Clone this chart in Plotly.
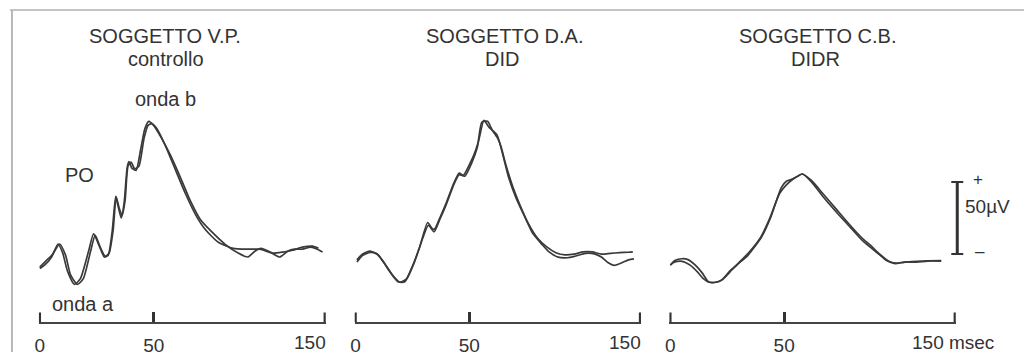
import plotly.graph_objects as go

# ---------------- data (time in msec, amplitude in µV) ----------------
vp_a_t = [0, 2.2, 5.2, 8, 10, 12.2, 15.2, 17.8, 21.3, 23.6, 26, 28.3, 30, 31.7, 33.3, 34.3, 35.7, 37,
          38.3, 39.1, 40.4, 42.2, 44.3, 46.1, 47.8, 50, 53.5, 57.3, 61.7, 66, 70.4, 74.8, 81.3, 87,
          91.3, 94.3, 97, 101, 105.2, 108.7, 111.7, 115.2, 118.7, 121.7, 124]
vp_a_v = [-10, -7.5, -2, 7, 1, -12, -21, -17, 1.4, 14, 6, -2, -0.7, 15, 40, 33.6, 25, 35.6,
          59.6, 64, 59.6, 58, 73, 87, 92, 89, 80, 68.5, 53, 37, 24, 16.4, 6.8, 0.7,
          -2, 2, 4, 1.4, -2, 2, 3.4, 3.4, 4.8, 3.4, 1.4]
vp_b_t = [0, 2.2, 5.7, 8.7, 11.3, 13.5, 16.5, 19.1, 22.2, 24.3, 26.5, 28.7, 30.4, 32.2, 33.5, 34.8,
          36.1, 37.4, 38.7, 40, 41.7, 43.5, 45.7, 47.4, 49.1, 51.3, 55.2, 59.6, 63.9, 68.3, 72.6,
          78.3, 84.8, 91.3, 96.5, 102.2, 106.5, 110.9, 115.2, 119.6, 122.2]
vp_b_v = [-9, -5.5, 0, 7, -0.7, -14.4, -21, -17, 1.4, 13, 4.8, -1.4, 0.7, 17, 39.7, 32,
          26.7, 37, 61, 63.7, 59, 61, 80, 89, 90.4, 87, 74.7, 58, 41.8, 27.4, 17,
          8.2, 4, 3.4, 3.4, 0.7, 1.4, 2.7, 4.8, 5.5, 4]

da_a_t = [0.6, 3, 6.4, 9.3, 12, 15, 18.7, 21.6, 24, 28, 31.7, 33.5, 34.7, 37, 40, 42.6, 45.5, 47.3,
          50, 52, 54, 56.4, 58.6, 62.2, 64.5, 67.3, 70.5, 74.5, 78, 81.7, 85, 89, 93, 96.2, 101,
          104.9, 108, 111, 113.6, 117, 120, 122.3]
da_a_v = [-5.5, -1, 1.2, 0.2, -5, -12, -19.2, -19.2, -12, 4, 21.9, 18, 17.3, 25, 36, 47, 56.2, 54.6,
          62, 68.7, 78, 92.6, 88, 82.4, 70, 52.9, 39, 25.3, 14, 7.1, 1.5, -2.1, -2.5, -1.6, 0.5,
          0.2, -2, -6, -7.8, -6, -4, -3.3]
da_b_t = [0.6, 3, 6.4, 10, 13, 16.5, 19.5, 22.5, 26, 29.5, 32, 34.5, 37, 40, 43, 45.5, 48, 51,
          53.5, 55.5, 58, 60, 62.5, 64, 66, 69, 72.5, 76, 80, 84, 88, 92, 96, 100, 104, 108,
          112, 116, 120, 121.8]
da_b_v = [-4, 0, 2, -0.5, -7, -15, -19.5, -17, -5, 11, 20, 15.5, 24, 35, 47.5, 55, 54, 63,
          74, 91.5, 92, 86, 80, 74, 62, 47, 33, 21, 11, 5, 1, -0.5, 0, 1.5, 1.5, 0,
          0.5, 1, 1.3, 1.5]

cb_a_t = [0, 2, 5.2, 8, 11, 14, 16.8, 20, 22.6, 26, 29.9, 34, 40, 44, 48.7, 51, 53, 56, 58.1,
          62, 67.5, 73, 79.1, 84, 87.8, 92, 95, 98.7, 103, 108.1, 113, 119]
cb_a_v = [-7.7, -4.5, -3.2, -4, -7.7, -13, -19.2, -19.5, -18, -12, -6.6, -1, 11.6, 25, 45.9, 50.5,
          51.6, 54, 55.5, 50, 39, 29, 18.5, 10, 4.8, -0.5, -4.5, -6.6, -5.5, -5.5, -4.8, -4.8]
cb_b_t = [0, 2, 5.2, 9, 12, 14.5, 17, 20, 23, 27, 31, 35, 40, 44, 48, 51, 54, 58, 62, 67, 73,
          79, 84, 88, 92, 96, 99, 103, 108, 113, 119]
cb_b_v = [-7.5, -5.5, -5, -8, -12.5, -17, -19.5, -19.5, -17.5, -11, -4.5, 2, 12.5, 26, 42, 48,
          52, 55.5, 51, 42, 31, 20, 11.5, 6, 0, -5, -6.3, -5.5, -5, -4.6, -4.5]

titles = ["SOGGETTO V.P.", "SOGGETTO D.A.", "SOGGETTO C.B."]
subtitles = ["controllo", "DID", "DIDR"]
tick_vals = [0, 50, 125]
tick_text = ["0", "50", ""]
end_labels = ["150", "150", "150 msec"]
scale_uv = 50

# ---------------- figure ----------------
W, H = 1024, 356
def px(x):
    return x / W
def py(y):
    return 1 - y / H

LINE = "#3a3a3a"
TXT = "#333333"
FONT = "Liberation Sans, Arial, sans-serif"

fig = go.Figure()
series = [(vp_a_t, vp_a_v, "x"), (vp_b_t, vp_b_v, "x"),
          (da_a_t, da_a_v, "x2"), (da_b_t, da_b_v, "x2"),
          (cb_a_t, cb_a_v, "x3"), (cb_b_t, cb_b_v, "x3")]
for t, v, xa in series:
    fig.add_trace(go.Scatter(x=t, y=v, xaxis=xa, yaxis="y", mode="lines",
                             line=dict(color=LINE, width=1.7, shape="spline", smoothing=0.6),
                             showlegend=False, hoverinfo="skip", cliponaxis=False))

domains = [(35, 323), (352, 639.5), (668, 955.5)]
axcommon = dict(range=[-0.4, 125.4], showgrid=False, zeroline=False, showline=True,
                linecolor="#444", linewidth=2, ticks="inside", ticklen=10, tickwidth=2.5,
                tickcolor="#333", tickmode="array", tickvals=tick_vals, ticktext=tick_text,
                tickfont=dict(family=FONT, size=19, color=TXT), ticklabelstandoff=5,
                anchor="y", fixedrange=True)
layout_axes = {}
for i, (a, b) in enumerate(domains):
    name = "xaxis" if i == 0 else f"xaxis{i+1}"
    layout_axes[name] = dict(domain=[px(a), px(b)], **axcommon)

fig.update_layout(
    width=W, height=H, margin=dict(l=0, r=0, t=0, b=0),
    paper_bgcolor="white", plot_bgcolor="white",
    yaxis=dict(domain=[py(326), py(110)], range=[-47.26, 100.68], visible=False, fixedrange=True),
    **layout_axes,
)

ann = []
centers = [162, 502, 817]
sub_centers = [163, 500, 815]
for i in range(3):
    ann.append(dict(x=px(centers[i]), y=py(36), xref="paper", yref="paper", text=titles[i],
                    showarrow=False, xanchor="center", yanchor="middle",
                    font=dict(family=FONT, size=20, color=TXT)))
    ann.append(dict(x=px(sub_centers[i]), y=py(60), xref="paper", yref="paper", text=subtitles[i],
                    showarrow=False, xanchor="center", yanchor="middle",
                    font=dict(family=FONT, size=20, color=TXT)))
# end tick labels
for i, xa in enumerate(["x", "x2", "x3"]):
    if i < 2:
        ann.append(dict(x=125, xref=xa, y=py(346), yref="paper", text=end_labels[i],
                        showarrow=False, xanchor="right", yanchor="middle", xshift=3,
                        font=dict(family=FONT, size=19, color=TXT)))
    else:
        ann.append(dict(x=125, xref=xa, y=py(346), yref="paper", text=end_labels[i],
                        showarrow=False, xanchor="center", yanchor="middle", xshift=-2,
                        font=dict(family=FONT, size=19, color=TXT)))
# waveform labels
for txt, x, y in [("onda b", 162, 100), ("PO", 76, 177), ("onda a", 79, 307)]:
    ann.append(dict(x=px(x), y=py(y), xref="paper", yref="paper", text=txt, showarrow=False,
                    xanchor="center", yanchor="middle", font=dict(family=FONT, size=20, color=TXT)))
# scale bar labels
ann.append(dict(x=px(978), y=scale_uv, xref="paper", yref="y", text="+", showarrow=False,
                xanchor="center", yanchor="middle", yshift=2, font=dict(family=FONT, size=17, color=TXT)))
ann.append(dict(x=px(987), y=scale_uv / 2, xref="paper", yref="y", text="50µV", showarrow=False,
                xanchor="center", yanchor="middle", yshift=12, font=dict(family=FONT, size=19, color=TXT)))
ann.append(dict(x=px(980), y=0, xref="paper", yref="y", text="–", showarrow=False,
                xanchor="center", yanchor="middle", yshift=3, font=dict(family=FONT, size=17, color=TXT)))
fig.update_layout(annotations=ann)

# scale bar
bx = px(957)
cap = 6 / W
shapes = [
    dict(type="line", xref="paper", yref="y", x0=bx, x1=bx, y0=0, y1=scale_uv,
         line=dict(color="#333", width=3)),
    dict(type="line", xref="paper", yref="y", x0=bx - cap, x1=bx + cap, y0=scale_uv, y1=scale_uv,
         line=dict(color="#333", width=2)),
    dict(type="line", xref="paper", yref="y", x0=bx - cap, x1=bx + cap, y0=0, y1=0,
         line=dict(color="#333", width=2)),
    # scan frame
    dict(type="line", xref="paper", yref="paper", x0=px(6), x1=1, y0=py(10), y1=py(10),
         line=dict(color="#c4c4c4", width=2)),
    dict(type="line", xref="paper", yref="paper", x0=px(8), x1=px(8), y0=py(10), y1=0,
         line=dict(color="#b8b8b8", width=2)),
]
# end ticks of each time axis (at the axis' first and last tick values)
for xa in ["x", "x2", "x3"]:
    for tv in (tick_vals[0], tick_vals[-1]):
        shapes.append(dict(type="line", xref=xa, yref="paper", x0=tv, x1=tv,
                           y0=py(326), y1=py(316), line=dict(color="#333", width=2.5)))
fig.update_layout(shapes=shapes)

fig.write_html("out.html", config={"displayModeBar": False},
               post_script="document.body.style.margin='0';document.body.style.overflow='hidden';")
